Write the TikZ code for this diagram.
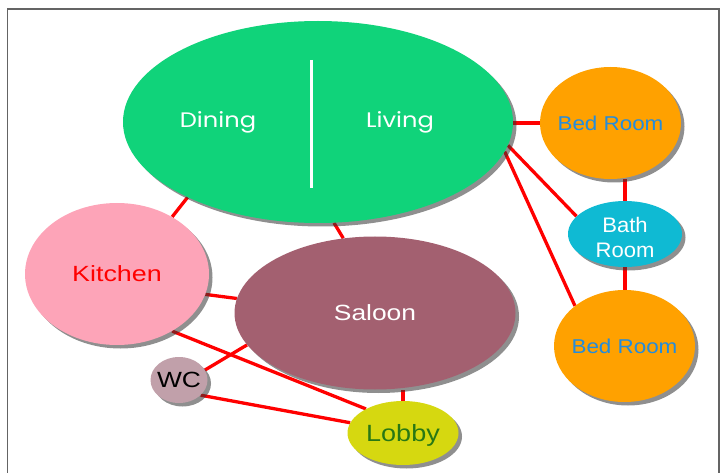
\documentclass[tikz,border=0pt]{standalone}
\usepackage{fontspec}
\usepackage{graphicx}
\setmainfont{Liberation Sans}
\newfontfamily\geofont{Poppins}
\usetikzlibrary{shapes.geometric,shadows,backgrounds}

\definecolor{roomgreen}{RGB}{16,211,122}
\definecolor{kitpink}{RGB}{253,164,184}
\definecolor{salmauve}{RGB}{163,96,112}
\definecolor{wcmauve}{RGB}{193,160,170}
\definecolor{bedorange}{RGB}{255,161,0}
\definecolor{bedtext}{RGB}{36,140,220}
\definecolor{bathcyan}{RGB}{15,186,211}
\definecolor{lobyellow}{RGB}{214,216,16}
\definecolor{lobtext}{RGB}{40,120,20}
\definecolor{framegray}{RGB}{100,100,100}
\definecolor{linkred}{RGB}{255,0,0}

% horizontally widened label of zero width, so it never resizes its ellipse
\newcommand{\widelabel}[2]{\makebox[0pt]{\scalebox{#1}[1]{#2}}}

\tikzset{
  roomshadow/.style={drop shadow={shadow xshift=3.5pt, shadow yshift=-3.5pt, fill=black!80, opacity=0.55}},
  room/.style={ellipse, inner sep=0pt, text depth=0pt, roomshadow},
  link/.style={draw=linkred, line width=3.3pt},
}

\begin{document}
\begin{tikzpicture}[x=1pt, y=-1pt]
\useasboundingbox (0,0) rectangle (723,473);

% page frame (open at the bottom)
\draw[framegray, line width=1.3pt] (7.5,473) -- (7.5,9) -- (719,9) -- (719,473);

% rooms
\node[room, fill=roomgreen, minimum width=390pt, minimum height=202pt] (dl) at (318,122) {};
\node[room, fill=kitpink, minimum width=184pt, minimum height=142pt,
      font=\fontsize{22}{24}\selectfont, text=linkred] (kit) at (117,274) {\widelabel{1.22}{Kitchen}};
\node[room, fill=salmauve, minimum width=281pt, minimum height=153pt,
      font=\fontsize{22}{24}\selectfont, text=white] (sal) at (375,313) {\widelabel{1.2}{Saloon}};
\node[room, fill=wcmauve, minimum width=57pt, minimum height=46pt,
      font=\fontsize{22}{24}\selectfont, text=black] (wc) at (179,380) {\widelabel{1.2}{WC}};
\node[room, fill=lobyellow, minimum width=111pt, minimum height=64pt,
      font=\fontsize{23.5}{26}\selectfont, text=lobtext] (lob) at (403,433) {\widelabel{1.15}{Lobby}};
\node[room, fill=bedorange, minimum width=141pt, minimum height=112pt,
      font=\fontsize{20}{22}\selectfont, text=bedtext] (bt) at (610.5,123) {\widelabel{1.12}{Bed Room}};
\node[room, fill=bedorange, minimum width=141pt, minimum height=112pt,
      font=\fontsize{20}{22}\selectfont, text=bedtext] (bb) at (624.5,346) {\widelabel{1.12}{Bed Room}};
\node[ellipse, inner sep=0pt, fill=bathcyan, minimum width=114pt, minimum height=66pt, roomshadow,
      font=\fontsize{21}{25}\selectfont, text=white] (bath) at (625,234)
      {\makebox[0pt]{\raisebox{-11.5pt}[0pt][0pt]{\scalebox{1.05}[1]{\begin{tabular}{@{}c@{}}Bath\\[0pt]Room\end{tabular}}}}};

% the two halves of the open-plan room
\tikzset{halflabel/.style={font=\geofont\fontsize{21}{23}\selectfont, text=white, inner sep=0pt, text depth=0pt}}
\node[halflabel] (dining) at (218,120) {\widelabel{1.15}{Dining}};
\node[halflabel] (living) at (400,120) {\widelabel{1.15}{Living}};
\draw[white, line width=3.5pt] (311.5,60) -- (311.5,188);

% connections, kept under the rooms
\begin{scope}[on background layer]
  \draw[link] (dl.210.8) -- (kit.46.5);
  \draw[link] (dl.279.4) -- (sal.113.4);
  \draw[link] (bt.west) -- (bt.west -| dl.east);
  \draw[link] (dl.-7.7) -- (bath.160);
  \draw[link] (dl.-9) -- (bb.141);
  \draw[link] (bath.north) -- (bath.north |- bt.south);
  \draw[link] (bath.south) -- (bath.south |- bb.north);
  \draw[link] (kit.-13.4) -- (sal.174.3);
  \draw[link] (kit.-46.5) -- (lob.147.7);
  \draw[link] (wc.21) -- (sal.194);
  \draw[link] (wc.-35.5) -- (lob.169);
  \draw[link] (lob.north) -- (lob.north |- sal.south);
\end{scope}
\end{tikzpicture}
\end{document}
